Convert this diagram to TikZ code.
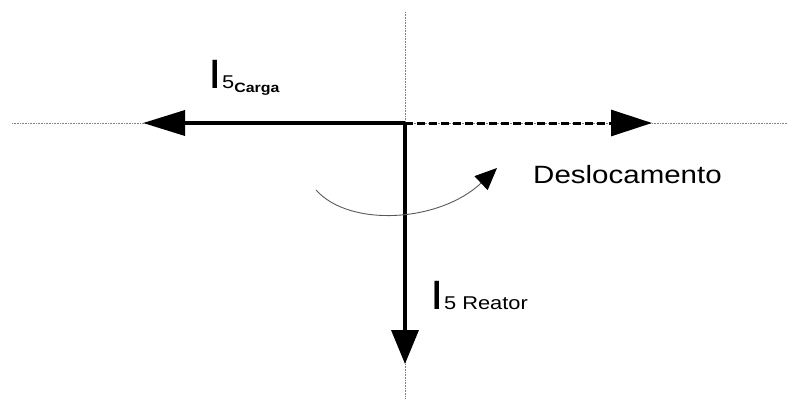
\documentclass[tikz,border=0pt]{standalone}
\usepackage{fontspec}
\setmainfont{Liberation Sans}
\usepackage{tikz}
\usetikzlibrary{arrows.meta, positioning}

\tikzset{
  axisline/.style={densely dotted, gray, line width=0.6pt},
  phasor/.style={line width=3.6pt, line cap=butt},
  lbl/.style={inner sep=0pt, anchor=base west},
}
\newcommand{\wide}[1]{\scalebox{1.18}[1]{#1}}

\begin{document}
\begin{tikzpicture}[x=1pt, y=-1pt, >=Triangle]
\useasboundingbox (0,0) rectangle (789,399);

% axes
\coordinate (o) at (405,123);
\coordinate (axL) at (12,123);
\coordinate (axR) at (787,123);
\coordinate (axT) at (405,12);
\coordinate (axB) at (405,399);
\draw[axisline] (axL) -- (axR);
\draw[axisline] (axT) -- (axB);

% phasors
\coordinate (carga) at (143,123);
\coordinate (shift) at (652,123);
\coordinate (reator) at (405,364);
\draw[phasor, -{Triangle[length=42pt,width=25pt]}] (o) -- (carga);
\draw[phasor, line width=3pt, dash pattern=on 8pt off 4pt, -{Triangle[length=41pt,width=26pt]}] (o) -- (shift);
\draw[phasor, -{Triangle[length=34pt,width=27pt]}] (o) -- (reator);

% rotation
\coordinate (rotA) at (316,190);
\coordinate (rotB) at (497,168);
\draw[gray!70!black, line width=0.9pt, -{Triangle[length=22pt,width=19pt,color=black]}]
  (rotA) .. controls (350,228) and (440,222) .. (rotB);

% labels
\node[lbl] (lcarga) at (208.5,88) {\wide{\fontsize{41}{41}\selectfont I\fontsize{18.5}{18.5}\selectfont 5\raisebox{-4pt}{\fontsize{13.5}{13.5}\selectfont\bfseries Carga}}};
\node[lbl] (lreator) at (430.5,309) {\wide{\fontsize{41}{41}\selectfont I\fontsize{18.5}{18.5}\selectfont 5 Reator}};
\node[lbl] (ldesl) at (533,183) {\wide{\fontsize{25}{25}\selectfont Deslocamento}};

\end{tikzpicture}
\end{document}
